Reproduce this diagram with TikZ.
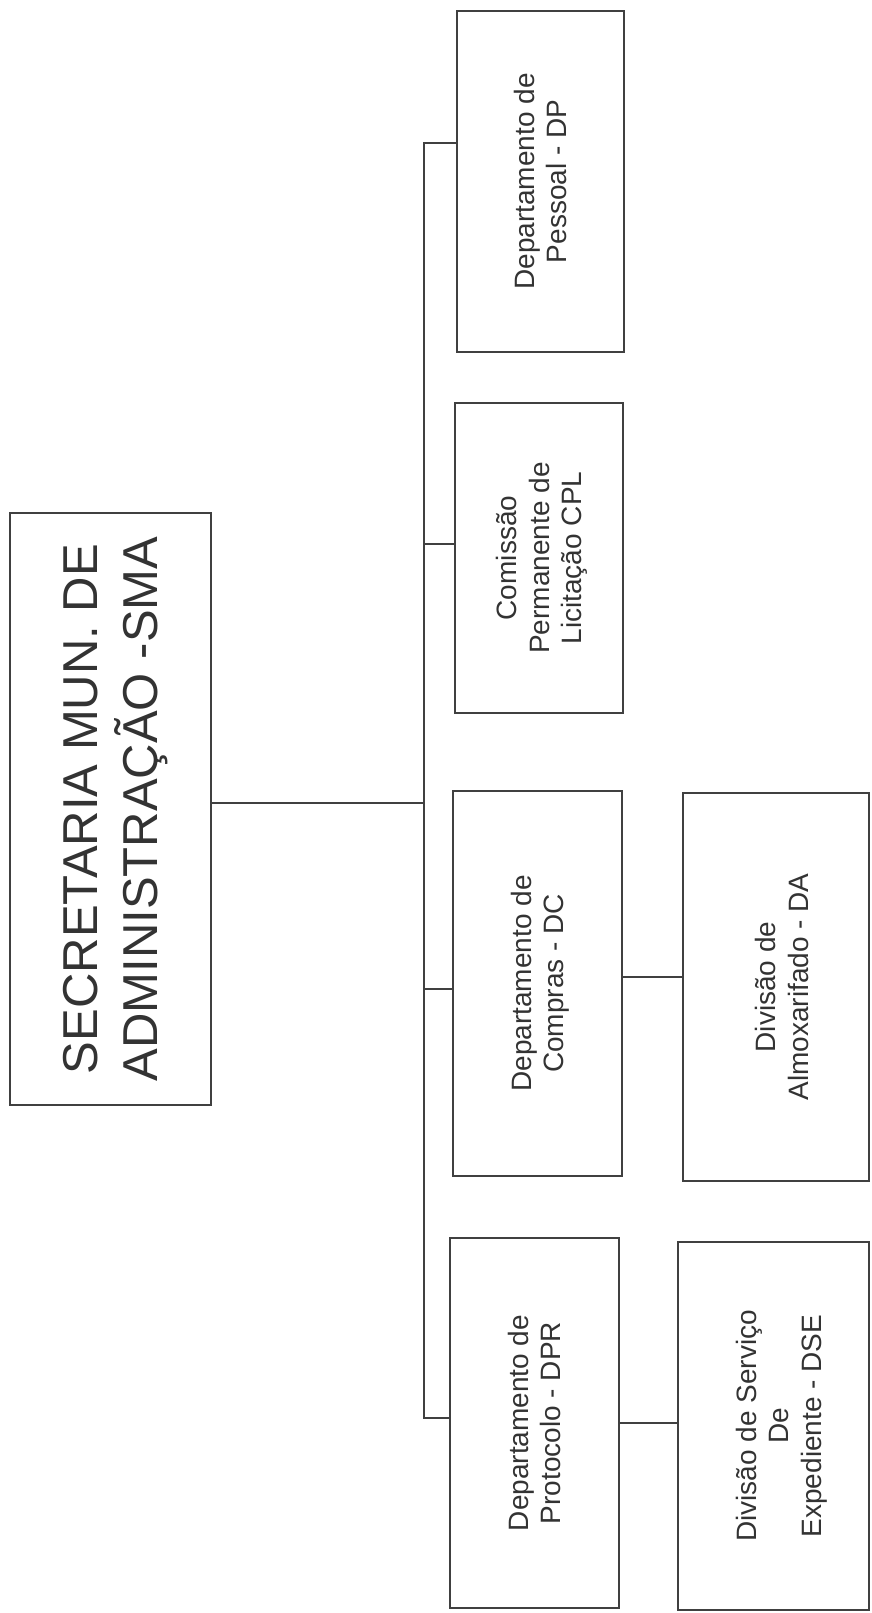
\documentclass[tikz,border=0pt]{standalone}
\usepackage{fontspec}
\setmainfont{Liberation Sans}
\usepackage{graphicx}
\usepackage{tikz}

\tikzset{
  orgbox/.style={rectangle, draw=black!75, line width=1.5pt, inner sep=0pt, text=black!80,
    font=\fontsize{28}{32.5}\selectfont},
  link/.style={draw=black!75, line width=1.5pt},
}
\newcommand{\vtext}[2][-3.5pt]{\rotatebox{90}{\raisebox{#1}[\height][\depth]{\begin{tabular}{@{}c@{}}#2\end{tabular}}}}

\begin{document}
\begin{tikzpicture}[x=1pt,y=-1pt]
\useasboundingbox (0,0) rectangle (872,1613);

    % caixas
\node[orgbox, minimum width=201pt, minimum height=592pt, font=\fontsize{49}{57}\selectfont] (SMA) at (110.5,809)
  {\vtext[-6pt]{SECRETARIA MUN. DE\\ADMINISTRAÇÃO -SMA}};
\node[orgbox, minimum width=167pt, minimum height=341pt] (DP) at (540.5,181.5) {\vtext{Departamento de\\Pessoal - DP}};
\node[orgbox, minimum width=168pt, minimum height=310pt] (CPL) at (539,558) {\vtext{Comissão\\Permanente de\\Licitação CPL}};
\node[orgbox, minimum width=169pt, minimum height=385pt] (DC) at (537.5,983.5) {\vtext{Departamento de\\Compras - DC}};
\node[orgbox, minimum width=186pt, minimum height=388pt] (DA) at (776,987) {\vtext[-9.5pt]{Divisão de\\Almoxarifado - DA}};
\node[orgbox, minimum width=169pt, minimum height=370pt] (DPR) at (534.5,1423) {\vtext{Departamento de\\Protocolo - DPR}};
\node[orgbox, minimum width=191pt, minimum height=368pt] (DSE) at (773.5,1426) {\vtext[-8.5pt]{Divisão de Serviço\\De\\Expediente - DSE}};

    % ligações
\coordinate (jDP) at (424,143);
\coordinate (jCPL) at (424,544);
\coordinate (jSMA) at (424,803);
\coordinate (jDC) at (424,989);
\coordinate (jDPR) at (424,1418);
\coordinate (kDA) at (650,977);
\draw[link] (jDP -| DP.west) -- (jDP) -- (jDPR) -- (jDPR -| DPR.west);
\draw[link] (jSMA -| SMA.east) -- (jSMA);
\draw[link] (jCPL) -- (jCPL -| CPL.west);
\draw[link] (jDC) -- (jDC -| DC.west);
\draw[link] (kDA -| DC.east) -- (kDA -| DA.west);
\draw[link] (DPR.east) -- (DPR.east -| DSE.west);

\end{tikzpicture}
\end{document}
